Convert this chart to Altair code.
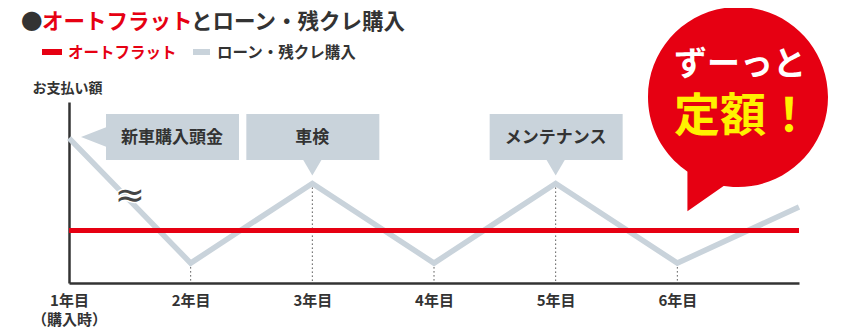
import json
import altair as alt
import pandas as pd

# ---------------- data ----------------
years = [1, 2, 3, 4, 5, 6, 7]
loan = [80, 11, 55, 11, 55, 11, 42]
flat = [29, 29, 29, 29, 29, 29, 29]

tick_years = [1, 2, 3, 4, 5, 6]
tick_labels = ["1年目", "2年目", "3年目", "4年目", "5年目", "6年目"]
first_sub = "（購入時）"

drop_years = [2, 3, 4, 5, 6]

callout_years = [1, 3, 5]
callout_labels = ["新車購入頭金", "車検", "メンテナンス"]

title_mark = "●"
title_red = "オートフラット"
title_dark = "とローン・残クレ購入"
legend_labels = ["オートフラット", "ローン・残クレ購入"]
y_title = "お支払い額"
bubble_top = "ずーっと"
bubble_bottom = "定額！"
break_mark = "≈"

# ---------------- styles ----------------
RED = "#e60012"
GRAY = "#c9d3db"
DARK = "#333333"
YELLOW = "#fff100"
FONT = "Noto Sans CJK JP"

lines = pd.DataFrame({"year": years, "loan": loan, "flat": flat})
drops = lines[lines["year"].isin(drop_years)]
callouts = pd.DataFrame({"year": callout_years, "label": callout_labels})
one = pd.DataFrame({"k": [0]})
brk = pd.DataFrame({"year": [(years[0] + years[1]) / 2], "loan": [(loan[0] + loan[1]) / 2]})

label_expr = (
    f"datum.value == {tick_years[0]} ? [{json.dumps(tick_labels[0], ensure_ascii=False)}, "
    f"{json.dumps(first_sub, ensure_ascii=False)}] : "
    f"{json.dumps(tick_labels, ensure_ascii=False)}[datum.value - 1]"
)

xscale = alt.Scale(domain=[1, 7], nice=False, zero=False)
yscale = alt.Scale(domain=[0, 100], nice=False, zero=True)

xaxis = alt.Axis(
    values=tick_years, labelExpr=label_expr, ticks=False, grid=False,
    domainColor=DARK, domainWidth=2.5, labelFont=FONT, labelFontSize=15,
    labelFontWeight="bold", labelColor=DARK, labelPadding=10, labelFlush=False,
    labelOverlap=False, labelLineHeight=19, title=None,
)
yaxis = alt.Axis(
    ticks=False, labels=False, grid=False, domainColor=DARK, domainWidth=2.5,
    title=y_title, titleAngle=0, titleAlign="left", titleBaseline="middle",
    titleX=-37, titleY=-14, titleFont=FONT, titleFontSize=14,
    titleFontWeight="bold", titleColor=DARK,
)

X = alt.X("year:Q", scale=xscale, axis=xaxis)
YL = alt.Y("loan:Q", scale=yscale, axis=yaxis)
YF = alt.Y("flat:Q", scale=yscale, axis=yaxis)

drop_layer = alt.Chart(drops).mark_rule(
    color="#555555", strokeWidth=1, strokeDash=[1.5, 2.5]
).encode(x=X, y=YL, y2=alt.datum(0))

gray_line = alt.Chart(lines).mark_line(
    color=GRAY, strokeWidth=5.5, strokeJoin="miter"
).encode(x=X, y=YL)

red_line = alt.Chart(lines).mark_line(color=RED, strokeWidth=5).encode(x=X, y=YF)

brk_white = alt.Chart(brk).mark_text(
    text=break_mark, font="DejaVu Sans", fontSize=36, color="white",
    stroke="white", strokeWidth=3, dy=-5
).encode(x=X, y=YL)
brk_dark = alt.Chart(brk).mark_text(
    text=break_mark, font="DejaVu Sans", fontSize=36, color="#444444", dy=-5
).encode(x=X, y=YL)

# callout boxes
box_main = alt.Chart(callouts).transform_filter(alt.datum.year != 1).mark_rect(
    color=GRAY, xOffset=-66, x2Offset=67
).encode(x=X, x2="year", y=alt.value(12), y2=alt.value(58))
box_first = alt.Chart(callouts).transform_filter(alt.datum.year == 1).mark_rect(
    color=GRAY, xOffset=37, x2Offset=170
).encode(x=X, x2="year", y=alt.value(12), y2=alt.value(58))

ptr_down = alt.Chart(callouts).transform_filter(alt.datum.year != 1).mark_point(
    shape="M-1,-0.3 L1,-0.3 L0,1.4 Z", size=484, filled=True, color=GRAY,
    opacity=1, strokeWidth=0
).encode(x=X, y=alt.value(58))
ptr_left = alt.Chart(callouts).transform_filter(alt.datum.year == 1).mark_point(
    shape="M0.3,-1 L0.3,1 L-2.27,0 Z", size=484, filled=True, color=GRAY,
    opacity=1, strokeWidth=0, xOffset=37
).encode(x=X, y=alt.value(35))

txt_main = alt.Chart(callouts).transform_filter(alt.datum.year != 1).mark_text(
    font=FONT, fontSize=17, fontWeight="bold", color=DARK, baseline="middle"
).encode(x=X, y=alt.value(36), text="label:N")
txt_first = alt.Chart(callouts).transform_filter(alt.datum.year == 1).mark_text(
    font=FONT, fontSize=17, fontWeight="bold", color=DARK, baseline="middle", xOffset=103
).encode(x=X, y=alt.value(36), text="label:N")

# bubble (circle clockwise, tail clockwise too so they union)
bubble_path = (
    "M-1,0 A1,1 0 1,1 1,0 A1,1 0 1,1 -1,0 Z "
    "M-0.562,0.674 L-0.2,0.8 L-0.112,0.955 L-0.562,1.27 Z"
)
bubble = alt.Chart(one).mark_point(
    shape=bubble_path, size=(2 * 90) ** 2, filled=True, color=RED, opacity=1, strokeWidth=0
).encode(x=alt.value(669), y=alt.value(-5))
bub_t1 = alt.Chart(one).mark_text(
    text=bubble_top, font=FONT, fontSize=33, fontWeight="bold", color="white", baseline="middle"
).encode(x=alt.value(671), y=alt.value(-37))
bub_t2 = alt.Chart(one).mark_text(
    text=bubble_bottom, font=FONT, fontSize=46, fontWeight="bold", color=YELLOW, baseline="middle"
).encode(x=alt.value(674), y=alt.value(15))

# title
def label(text, x, y, size, color):
    return alt.Chart(one).mark_text(
        text=text, font=FONT, fontSize=size, fontWeight="bold", color=color,
        align="left", baseline="middle"
    ).encode(x=alt.value(x), y=alt.value(y))

t1 = label(title_mark, -48, -79, 21.5, DARK)
t2 = label(title_red, -27, -79, 21.5, RED)
t3 = label(title_dark, 122, -79, 21.5, DARK)

sw_red = alt.Chart(one).mark_rule(color=RED, strokeWidth=6).encode(
    x=alt.value(-27), x2=alt.value(-7), y=alt.value(-50))
sw_gray = alt.Chart(one).mark_rule(color=GRAY, strokeWidth=6).encode(
    x=alt.value(124), x2=alt.value(141), y=alt.value(-50))
l1 = label(legend_labels[0], -1, -49, 15.5, RED)
l2 = label(legend_labels[1], 148, -49, 15.5, DARK)

chart = alt.layer(
    drop_layer, gray_line, brk_white, brk_dark, red_line,
    box_main, box_first, ptr_down, ptr_left, txt_main, txt_first,
    bubble, bub_t1, bub_t2,
    t1, t2, t3, sw_red, sw_gray, l1, l2,
).properties(
    width=730, height=181,
    padding={"left": 61, "top": 94, "right": 40, "bottom": 46},
    autosize=alt.AutoSizeParams(type="none"),
    background="white",
).configure(font=FONT).configure_view(stroke=None)

chart.save("out.html", embed_options={"renderer": "svg", "actions": False})
